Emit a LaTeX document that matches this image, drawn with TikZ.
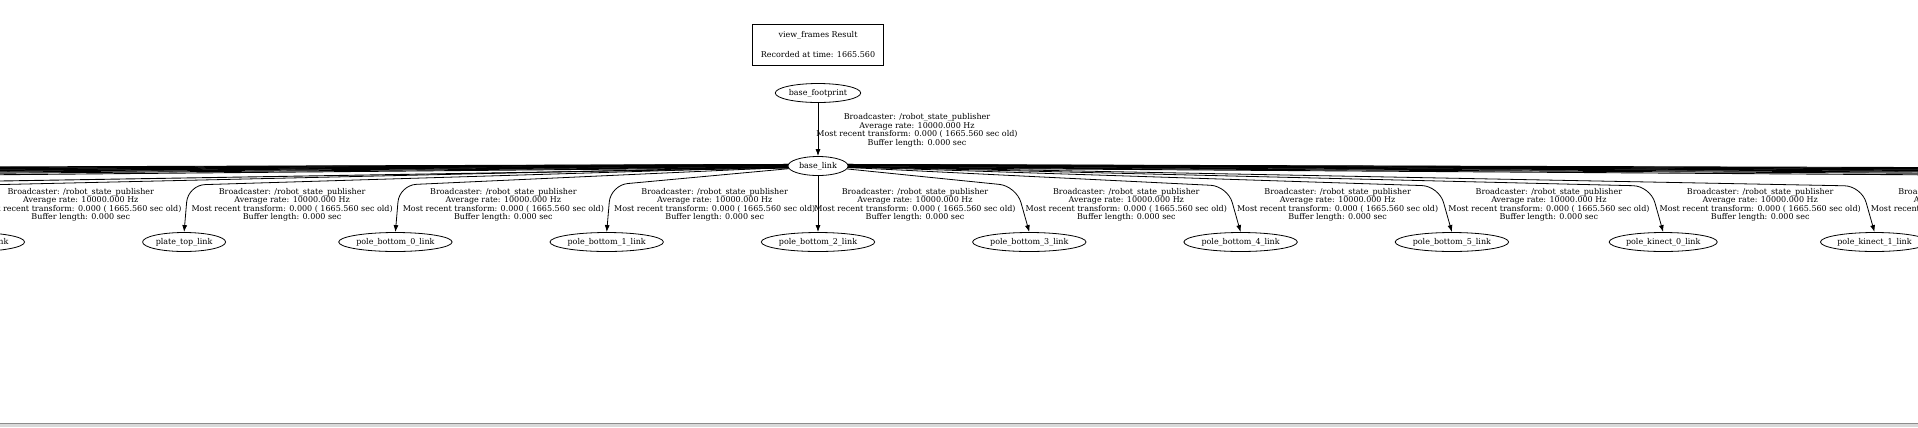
\documentclass[tikz,border=0pt]{standalone}
\usepackage{fontspec}
\setmainfont{DejaVu Serif}
\usepackage{tikz}
\usetikzlibrary{shapes,arrows.meta,positioning,calc}
\newcommand{\bcasttext}{Broadcaster: /robot\_state\_publisher\\Average rate: 10000.000 Hz\\Most recent transform: 0.000 ( 1665.560 sec old)\\Buffer length: 0.000 sec}

\begin{document}
\begin{tikzpicture}
	[x=1bp, y=-1bp, font=\fontsize{8bp}{8.4bp}\selectfont,
	% STYLES
	% The frame style is used to draw the name of every tf frame
	frame/.style={ellipse, draw, line width=0.8bp, inner xsep=1bp, inner ysep=0.5bp, minimum height=19bp, minimum width=60bp},
	% The result style is used for the box with the recording time
	result/.style={rectangle, draw, line width=0.8bp, minimum width=131bp, minimum height=41bp, align=center},
	% The bcast style is used for the broadcaster text of every edge
	bcast/.style={align=center, inner sep=0pt},
	line/.style={draw, line width=0.8bp, -{Latex[length=7bp,width=5bp]}},
	far/.style={draw, line width=0.9bp}]
	
	\useasboundingbox (0,0) rectangle (1918,427);
	\clip (0,0) rectangle (1918,427);
	
	% result box on top
	\node [result] (Result) at (818,44.5) {view\_frames Result\\[11bp]Recorded at time: 1665.560};
	% root of the tree
	\node [frame] (Footprint) at (818,93) {base\_footprint};
	\node [frame] (Base) at (818,166) {base\_link};
	\path [line] (Footprint) -- (Base);
	\node [bcast] (FootprintText) at (917,130.3) {\bcasttext};
	
	% straight down
	\node [frame] (Mid) at (818,242) {pole\_bottom\_2\_link};
	\path [line] (Base) -- (Mid);
	\node [bcast] (MidText) at (915,204.8) {\bcasttext};
	
	%left of base_link
	\foreach \k/\fname in {1/pole\_bottom\_1\_link, 2/pole\_bottom\_0\_link, 3/plate\_top\_link, 4/plate\_middle\_link}{
		\node [frame] (L\k) at (818-211.3*\k,242) {\fname};
		\path [line, rounded corners=17bp] (Base) -- ($(L\k.north)+(4,-47)$) -- (L\k.north);
		\node [bcast] (LText\k) at (818-211.3*\k+108,204.8) {\bcasttext};
	}
	%right of base_link
	\foreach \k/\fname in {1/pole\_bottom\_3\_link, 2/pole\_bottom\_4\_link, 3/pole\_bottom\_5\_link, 4/pole\_kinect\_0\_link, 5/pole\_kinect\_1\_link}{
		\node [frame] (R\k) at (818+211.3*\k,242) {\fname};
		\path [line, rounded corners=17bp] (Base) -- ($(R\k.north)+(-13,-46)$) -- (R\k.north);
		\node [bcast] (RText\k) at (818+211.3*\k+97,204.8) {\bcasttext};
	}
	
	% edges that leave the picture
	\foreach \a/\y [count=\i] in {177/167, 177/167.6, 178/168.2, 178/168.8, 179/169.4, 179/170, 180/170.6, 180/171.3, 181/172.2, 182/173.4, 183/175, 184/181.5}{
		\coordinate (FarL\i) at (-30,\y);
		\path [far] (Base.\a) -- (FarL\i);
	}
	\foreach \a/\y [count=\i] in {3/167.6, 3/168.2, 2/168.8, 2/169.4, 1/170, 1/170.6, 0/171.3, 359/172.2, 358/173.4, 357/175}{
		\coordinate (FarR\i) at (1948,\y);
		\path [far] (Base.\a) -- (FarR\i);
	}
	
	% bottom border
	\fill [black!15] (0,423) rectangle (1918,427);
	\draw [black!45, line width=1bp] (0,423) -- (1918,423);
	
\end{tikzpicture}
\end{document}
